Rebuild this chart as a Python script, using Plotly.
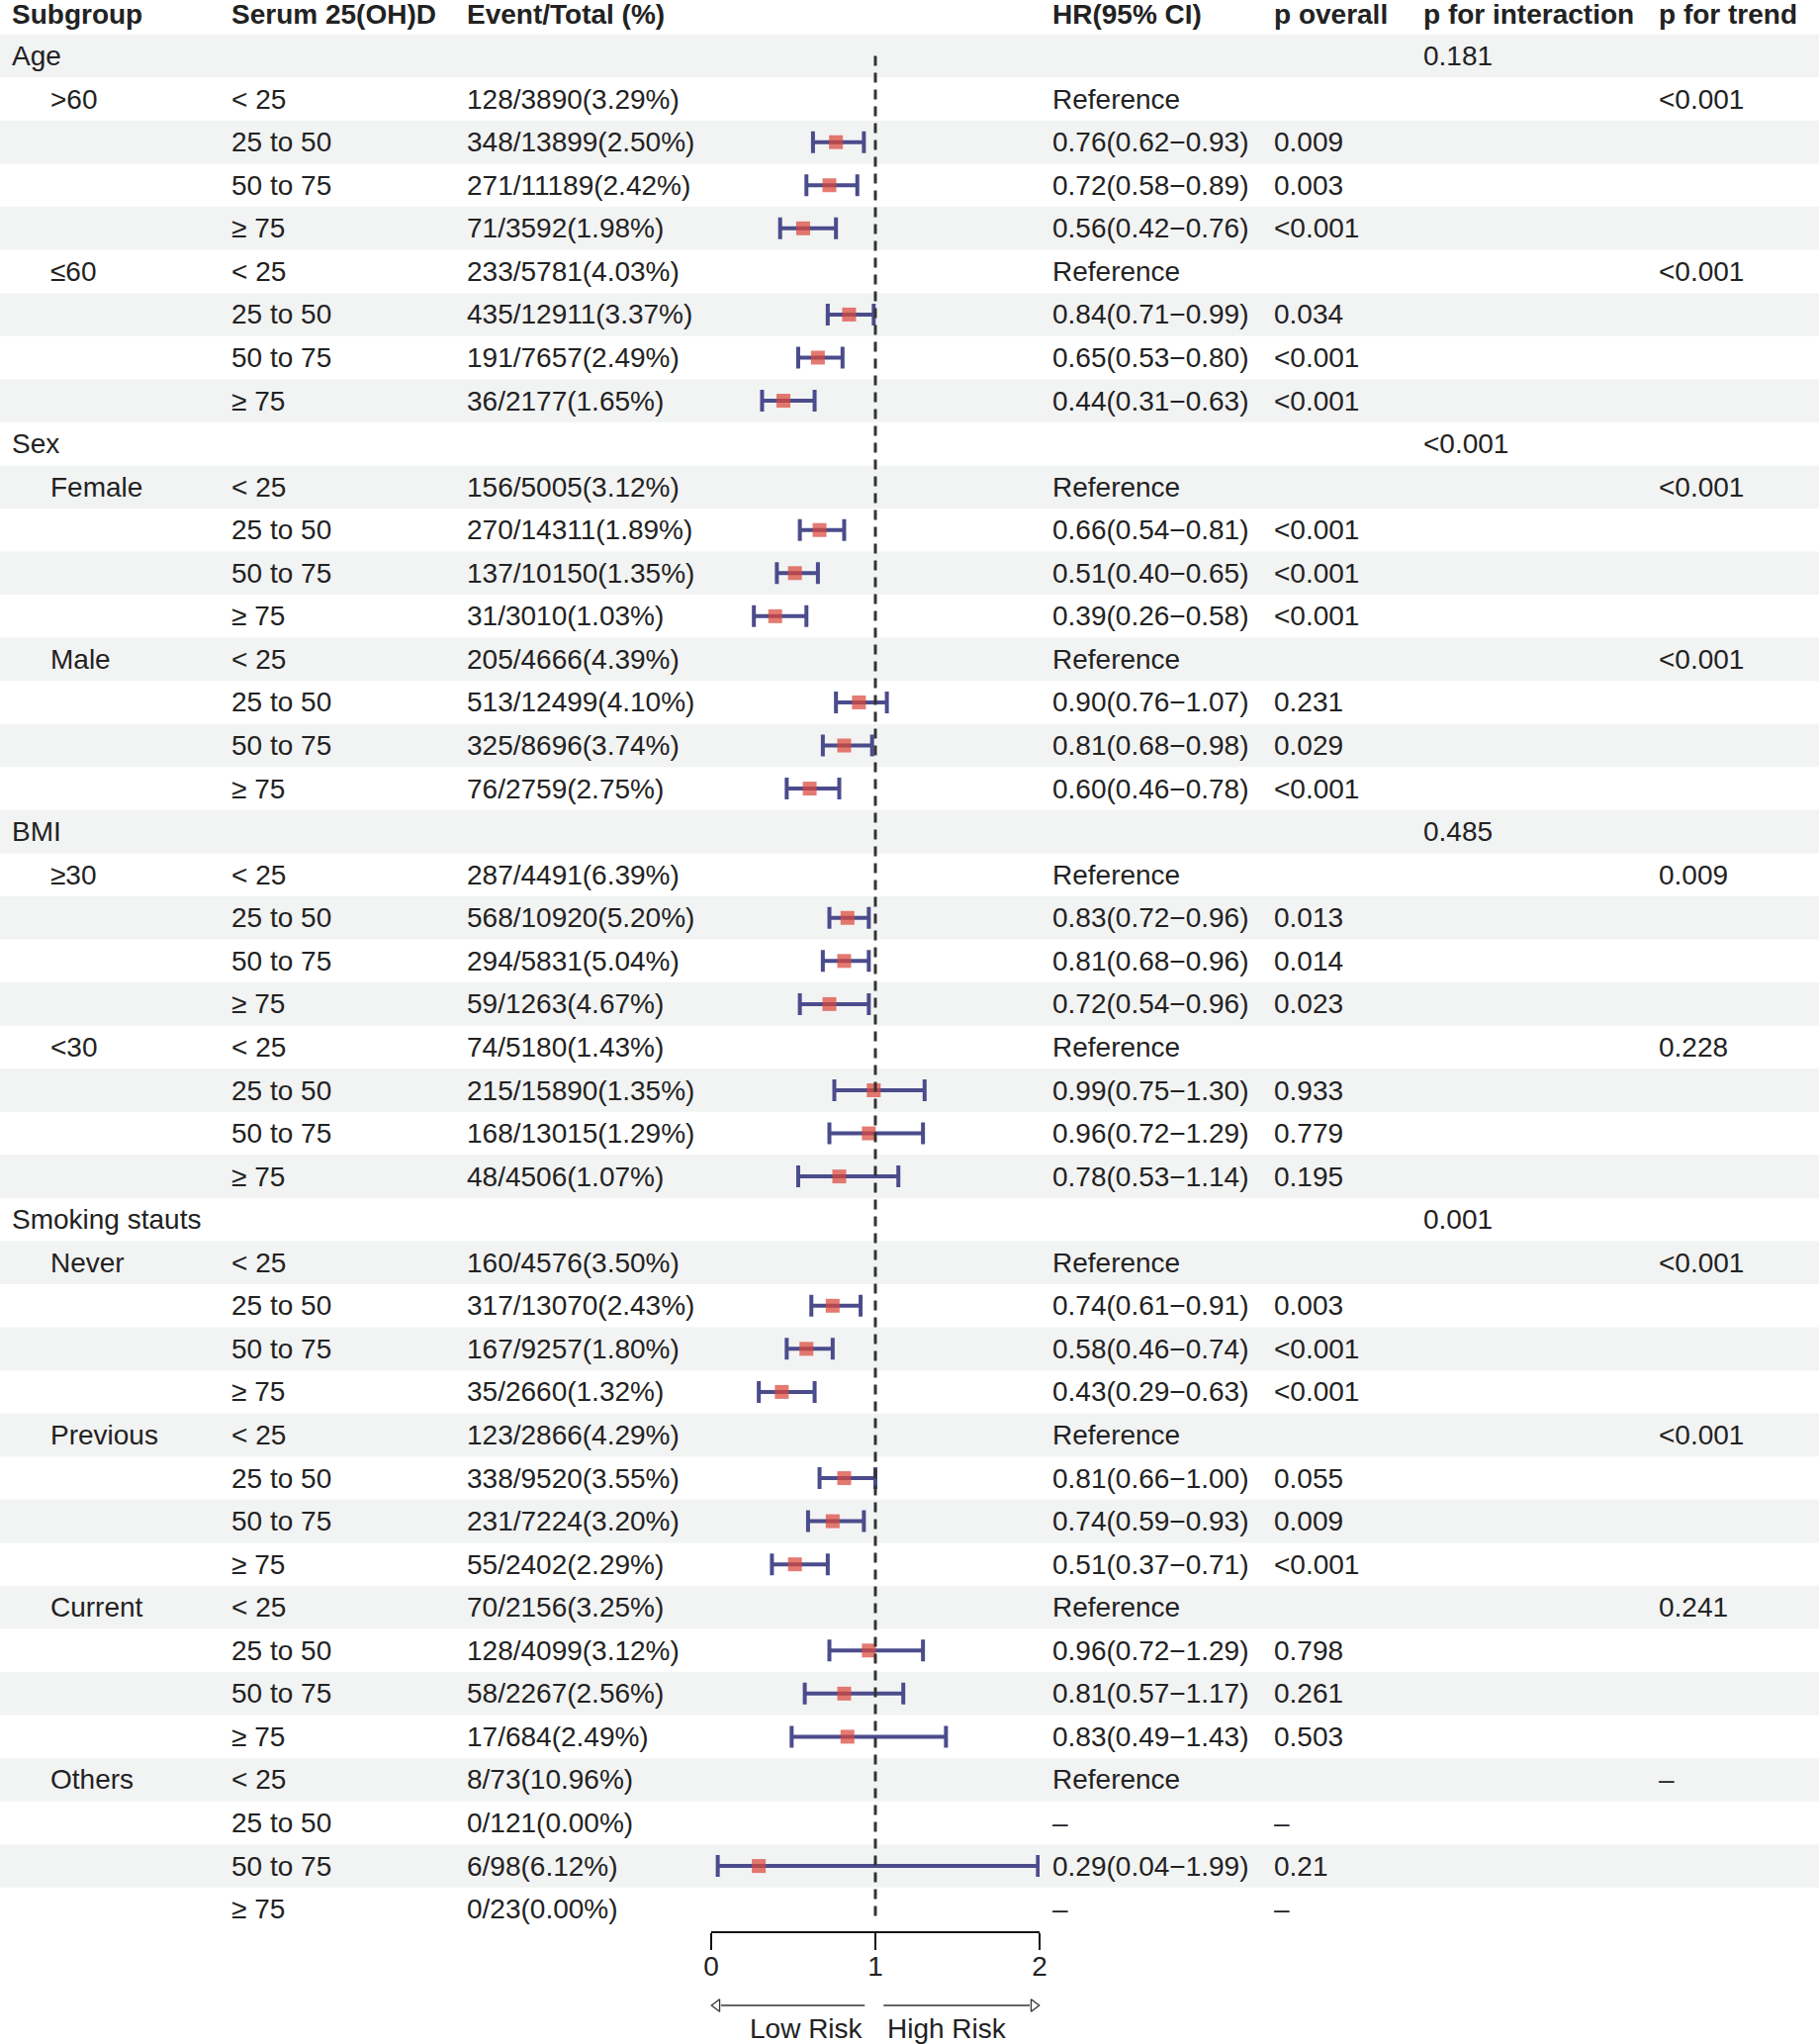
import plotly.graph_objects as go

W, H = 1839, 2066
FONT = 'Liberation Sans, Arial, sans-serif'
INK = '#222222'
BAND = '#F2F3F3'
NAVY = '#4B4C8C'
RED = '#D9473A'

HEADERS = ['Subgroup', 'Serum 25(OH)D', 'Event/Total (%)', 'HR(95% CI)',
           'p overall', 'p for interaction', 'p for trend']

GROUPS = ['Age', 'Sex', 'BMI', 'Smoking stauts']
P_INTERACTION = ['0.181', '<0.001', '0.485', '0.001']
LEVELS = [['>60', '≤60'], ['Female', 'Male'], ['≥30', '<30'],
          ['Never', 'Previous', 'Current', 'Others']]
P_TREND = [['<0.001', '<0.001'], ['<0.001', '<0.001'], ['0.009', '0.228'],
           ['<0.001', '<0.001', '0.241', '–']]
SERUM = ['< 25', '25 to 50', '50 to 75', '≥ 75']

EVENTS = [
    '128/3890(3.29%)', '348/13899(2.50%)', '271/11189(2.42%)', '71/3592(1.98%)',
    '233/5781(4.03%)', '435/12911(3.37%)', '191/7657(2.49%)', '36/2177(1.65%)',
    '156/5005(3.12%)', '270/14311(1.89%)', '137/10150(1.35%)', '31/3010(1.03%)',
    '205/4666(4.39%)', '513/12499(4.10%)', '325/8696(3.74%)', '76/2759(2.75%)',
    '287/4491(6.39%)', '568/10920(5.20%)', '294/5831(5.04%)', '59/1263(4.67%)',
    '74/5180(1.43%)', '215/15890(1.35%)', '168/13015(1.29%)', '48/4506(1.07%)',
    '160/4576(3.50%)', '317/13070(2.43%)', '167/9257(1.80%)', '35/2660(1.32%)',
    '123/2866(4.29%)', '338/9520(3.55%)', '231/7224(3.20%)', '55/2402(2.29%)',
    '70/2156(3.25%)', '128/4099(3.12%)', '58/2267(2.56%)', '17/684(2.49%)',
    '8/73(10.96%)', '0/121(0.00%)', '6/98(6.12%)', '0/23(0.00%)',
]
HR = [None, 0.76, 0.72, 0.56, None, 0.84, 0.65, 0.44,
      None, 0.66, 0.51, 0.39, None, 0.90, 0.81, 0.60,
      None, 0.83, 0.81, 0.72, None, 0.99, 0.96, 0.78,
      None, 0.74, 0.58, 0.43, None, 0.81, 0.74, 0.51,
      None, 0.96, 0.81, 0.83, None, None, 0.29, None]
LO = [None, 0.62, 0.58, 0.42, None, 0.71, 0.53, 0.31,
      None, 0.54, 0.40, 0.26, None, 0.76, 0.68, 0.46,
      None, 0.72, 0.68, 0.54, None, 0.75, 0.72, 0.53,
      None, 0.61, 0.46, 0.29, None, 0.66, 0.59, 0.37,
      None, 0.72, 0.57, 0.49, None, None, 0.04, None]
HI = [None, 0.93, 0.89, 0.76, None, 0.99, 0.80, 0.63,
      None, 0.81, 0.65, 0.58, None, 1.07, 0.98, 0.78,
      None, 0.96, 0.96, 0.96, None, 1.30, 1.29, 1.14,
      None, 0.91, 0.74, 0.63, None, 1.00, 0.93, 0.71,
      None, 1.29, 1.17, 1.43, None, None, 1.99, None]
P_OVERALL = ['', '0.009', '0.003', '<0.001', '', '0.034', '<0.001', '<0.001',
             '', '<0.001', '<0.001', '<0.001', '', '0.231', '0.029', '<0.001',
             '', '0.013', '0.014', '0.023', '', '0.933', '0.779', '0.195',
             '', '0.003', '<0.001', '<0.001', '', '0.055', '0.009', '<0.001',
             '', '0.798', '0.261', '0.503', '', '–', '0.21', '–']

# pixel layout
ROW0, ROWH = 13, 43.56          # centre of header row, row pitch
COL_X = [10, 232, 470, 1062, 1286, 1437, 1675]
INDENT_X = 49
X0_PX, X2_PX = 719, 1051        # forest column: HR=0 .. HR=2
AXIS_PX = 1953

# ---- build table rows -------------------------------------------------------
rows = []
k = 0
for g, grp in enumerate(GROUPS):
    rows.append(dict(cells=[grp, '', '', '', '', P_INTERACTION[g], ''], indent=False))
    for l, lev in enumerate(LEVELS[g]):
        for s, ser in enumerate(SERUM):
            if s == 0:
                hr_txt = 'Reference'
            elif HR[k] is None:
                hr_txt = '–'
            else:
                hr_txt = f'{HR[k]:.2f}({LO[k]:.2f}−{HI[k]:.2f})'
            rows.append(dict(
                cells=[lev if s == 0 else '', ser, EVENTS[k], hr_txt, P_OVERALL[k],
                       '', P_TREND[g][l] if s == 0 else ''],
                indent=True, k=k))
            k += 1

n_rows = len(rows)
y_top = -ROW0 / ROWH
y_bot = (H - ROW0) / ROWH

fig = go.Figure()

# forest marks
fx, fy, fplus, fminus = [], [], [], []
for i, r in enumerate(rows, start=1):
    kk = r.get('k')
    if kk is not None and HR[kk] is not None:
        fx.append(HR[kk]); fy.append(i)
        fplus.append(HI[kk] - HR[kk]); fminus.append(HR[kk] - LO[kk])

fig.add_trace(go.Scatter(
    x=fx, y=fy, mode='markers',
    marker=dict(symbol='square', size=14, color=RED, opacity=0.72, line=dict(width=0)),
    error_x=dict(type='data', symmetric=False, array=fplus, arrayminus=fminus,
                 color=NAVY, thickness=4, width=11),
    cliponaxis=False, hoverinfo='skip'))

# risk arrows under the axis
ARROW_Y = (2027 - ROW0) / ROWH
fig.add_trace(go.Scatter(x=[0.935, 0.06], y=[ARROW_Y] * 2, mode='lines',
                         line=dict(color='#333', width=1.3), hoverinfo='skip'))
fig.add_trace(go.Scatter(x=[1.05, 1.94], y=[ARROW_Y] * 2, mode='lines',
                         line=dict(color='#333', width=1.3), hoverinfo='skip'))
fig.add_trace(go.Scatter(x=[0.035, 1.965], y=[ARROW_Y] * 2, mode='markers',
                         marker=dict(symbol=['triangle-left-open', 'triangle-right-open'],
                                     size=11, color='#333', line=dict(width=1.3)),
                         cliponaxis=False, hoverinfo='skip'))

shapes = []
for i in range(1, n_rows + 1, 2):
    shapes.append(dict(type='rect', xref='paper', yref='y', x0=0, x1=1,
                       y0=i - 0.5, y1=i + 0.5, fillcolor=BAND,
                       line=dict(width=0), layer='below'))
shapes.append(dict(type='line', xref='x', yref='y', x0=1, x1=1, y0=1.0, y1=44.2,
                   line=dict(color='#333', width=3, dash='10px,7px'), layer='above'))

ann = []
def txt(x_px, y, s, bold=False, anchor='left'):
    if not s:
        return
    ann.append(dict(x=x_px / W, xref='paper', y=y, yref='y', text=f'<b>{s}</b>' if bold else s,
                    showarrow=False, xanchor=anchor, yanchor='middle',
                    font=dict(family=FONT, size=28, color=INK)))

for c, h in enumerate(HEADERS):
    txt(COL_X[c], 0.03, h, bold=True)
for i, r in enumerate(rows, start=1):
    for c, s in enumerate(r['cells']):
        x = INDENT_X if (c == 0 and r['indent']) else COL_X[c]
        txt(x, i, s)

LABEL_Y = (2050 - ROW0) / ROWH
ann.append(dict(x=0.94, xref='x', y=LABEL_Y, yref='y', text='Low Risk', showarrow=False,
                xanchor='right', yanchor='middle', font=dict(family=FONT, size=28, color=INK)))
ann.append(dict(x=1.06, xref='x', y=LABEL_Y, yref='y', text='High Risk', showarrow=False,
                xanchor='left', yanchor='middle', font=dict(family=FONT, size=28, color=INK)))

fig.update_layout(
    width=W, height=H,
    margin=dict(l=0, r=0, t=0, b=0, autoexpand=False),
    paper_bgcolor='white', plot_bgcolor='rgba(0,0,0,0)',
    showlegend=False,
    font=dict(family=FONT, size=28, color=INK),
    shapes=shapes, annotations=ann,
    xaxis=dict(domain=[X0_PX / W, X2_PX / W], range=[0, 2], anchor='free',
               position=1 - AXIS_PX / H, showline=True, linecolor='#111', linewidth=1.5,
               ticks='outside', ticklen=17, tickwidth=1.5, tickcolor='#111',
               tickvals=[0, 1, 2], showgrid=False, zeroline=False,
               ticklabelstandoff=-7, automargin=False,
               tickfont=dict(family=FONT, size=28, color=INK)),
    yaxis=dict(domain=[0, 1], range=[y_bot, y_top], visible=False),
)

# drop the default page margin / scrollbars so the figure sits flush in the window
fig.write_html(
    'out.html',
    config={'displayModeBar': False},
    post_script=("document.body.style.margin='0';"
                 "document.body.style.overflow='hidden';"
                 "document.documentElement.style.overflow='hidden';"),
)
